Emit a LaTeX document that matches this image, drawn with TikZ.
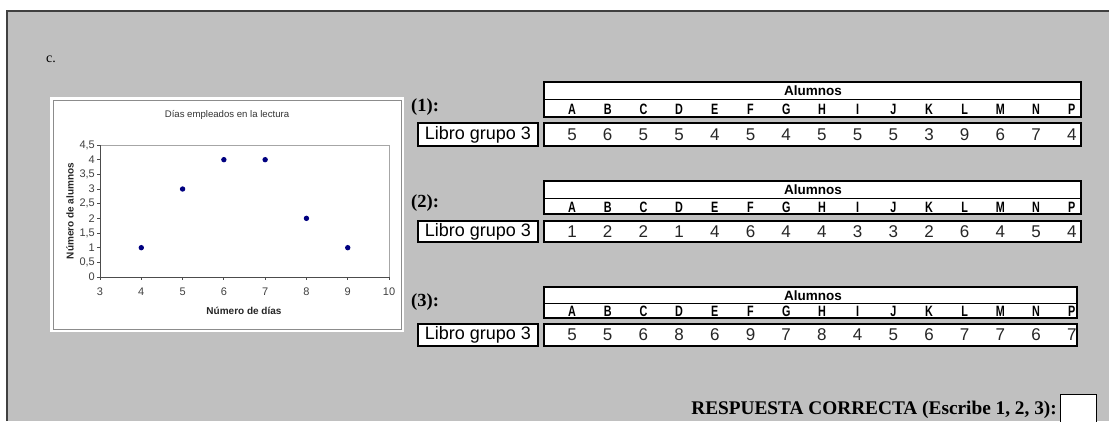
\documentclass[tikz,border=0pt]{standalone}
\usepackage{fontspec}
\setmainfont{Liberation Serif}
\setsansfont{Liberation Sans}
\definecolor{bg}{HTML}{C0C0C0}
\definecolor{navy}{HTML}{000080}
\newcommand\cond[1]{\scalebox{0.72}[1]{#1}}
\tikzset{
  tbl/.style={line width=2pt, draw=black, fill=white},
  thin/.style={line width=1pt, black},
  lab/.style={font=\fontsize{18.5}{18.5}\selectfont\bfseries, anchor=west, inner sep=0},
  letter/.style={font=\sffamily\bfseries\fontsize{15}{15}\selectfont, inner sep=0},
  val/.style={font=\sffamily\fontsize{17}{17}\selectfont, text=black!85, inner sep=0},
  libro/.style={font=\sffamily\fontsize{18}{18}\selectfont, inner sep=0},
  alum/.style={font=\sffamily\bfseries\fontsize{13.5}{13.5}\selectfont, inner sep=0},
  ticklab/.style={font=\sffamily\fontsize{11}{11}\selectfont, text=black!75, inner sep=0},
  axlab/.style={font=\sffamily\bfseries\fontsize{10}{10}\selectfont, text=black!85, inner sep=0},
  pt/.style={fill=navy}
}
\begin{document}
\begin{tikzpicture}[x=1pt,y=-1pt]
\useasboundingbox (0,0) rectangle (1109,421);
\fill[white] (0,0) rectangle (1109,421);
\fill[bg] (7,11) rectangle (1109,421);
\draw[line width=1.2pt, black!75] (7,421) -- (7,11) -- (1109,11);

\node[font=\fontsize{14}{14}\selectfont, anchor=west, inner sep=0] (c) at (46,59) {c.};

% ---------- chart ----------
\fill[white] (50,97) rectangle (404,332);
\draw[line width=1pt, black!45] (53,100) rectangle (401,329);
\node[font=\sffamily\fontsize{9.6}{9.6}\selectfont, text=black!80, inner sep=0] (title) at (227,115) {Días empleados en la lectura};
\begin{scope}[shift={(100,277)}, x=41.29pt, y=29.33pt]
  \draw[black!35, line width=0.8pt] (0,4.5) -- (7,4.5) -- (7,0);
  \draw[black!70, line width=0.9pt] (0,4.5) -- (0,0) -- (7,0);
  \foreach \v/\t in {0/0,0.5/{0,5},1/1,1.5/{1,5},2/2,2.5/{2,5},3/3,3.5/{3,5},4/4,4.5/{4,5}}{
    \draw[black!70, line width=0.8pt] (0,\v) -- ++(-3pt,0);
    \node[ticklab, anchor=east] at ([xshift=-5pt]0,\v) {\t};
  }
  \foreach \v in {3,...,10}{
    \draw[black!70, line width=0.8pt] (\v-3,0) -- ++(0,-3pt);
    \node[ticklab] at ([yshift=-15pt]\v-3,0) {\v};
  }
  \foreach \a/\b in {4/1,5/3,6/4,7/4,8/2,9/1}{
    \fill[pt] (\a-3,\b) circle (2.7pt);
  }
\end{scope}
\node[axlab] (xlab) at (244,311) {Número de días};
\node[axlab, rotate=90] (ylab) at (70,211) {Número de alumnos};

% ---------- tables ----------
\newcommand\mktable[9]{%
  % #1 id, #2 top, #3 mid, #4 bot, #5 data top, #6 data bot, #7 right, #8 values, #9 label y
  \draw[tbl] (544,#2) rectangle (#7,#4);
  \draw[thin] (544,#3) -- (#7,#3);
  \draw[tbl] (544,#5) rectangle (#7,#6);
  \draw[tbl] (418,#5) rectangle (538,#6);
  \node[libro] (#1-libro) at (478,{(#5+#6)/2}) {Libro grupo 3};
  \node[alum] (#1-alum) at (813,{(#2+#3)/2+0.5}) {Alumnos};
  \node[lab] (#1-lab) at (411,#9) {(#1):};
  \foreach \L [count=\i from 0] in {A,B,C,D,E,F,G,H,I,J,K,L,M,N,P}{
    \node[letter] (#1-L\i) at ({572+35.7*\i},{(#3+#4)/2+1}) {\cond{\L}};
  }
  \foreach \V [count=\i from 0] in {#8}{
    \node[val] (#1-V\i) at ({572+35.7*\i},{(#5+#6)/2}) {\V};
  }
}
\mktable{1}{82}{99}{117}{123}{146}{1081}{5,6,5,5,4,5,4,5,5,5,3,9,6,7,4}{107}
\mktable{2}{181}{198}{214}{221}{242}{1081}{1,2,2,1,4,6,4,4,3,3,2,6,4,5,4}{203}
\mktable{3}{287}{303}{318}{324}{346}{1077}{5,5,6,8,6,9,7,8,4,5,6,7,7,6,7}{302}

% ---------- answer ----------
\node[font=\fontsize{19.3}{19.3}\selectfont\bfseries, anchor=east, inner sep=0] (resp) at (1057,410) {RESPUESTA CORRECTA (Escribe 1, 2, 3):};
\draw[line width=1pt, black, fill=white] (1060,394) rectangle (1096,424);
\coordinate (box) at (1078,409);
\end{tikzpicture}
\end{document}
